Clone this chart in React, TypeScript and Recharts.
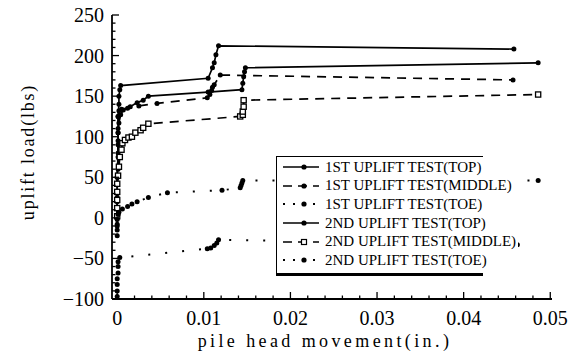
import { ComposedChart, Line, XAxis, YAxis, Legend } from "recharts";

type Pt = [number, number];

// pile head movement (in.), uplift load (lbs)
const TOP_1ST: Pt[] = [
  [0, -10], [0, 20], [0, 50], [0.0001, 80], [0.0001, 105], [0.0001, 125], [0.0002, 140],
  [0.0002, 150], [0.0003, 158], [0.0004, 163], [0.0105, 172], [0.011, 185], [0.0112, 191],
  [0.0114, 201], [0.0117, 212], [0.0458, 208],
];
const MIDDLE_1ST: Pt[] = [
  [0, 0], [0, 30], [0.0001, 60], [0.0001, 90], [0.0001, 110], [0.0001, 125], [0.0002, 132],
  [0.0005, 134], [0.0012, 135], [0.0025, 138], [0.0046, 141], [0.0104, 148], [0.0107, 152],
  [0.0109, 157], [0.011, 161], [0.0112, 164], [0.0119, 176], [0.0457, 170],
];
const TOE_1ST: Pt[] = [
  [0, -97], [0, -90], [0, -82], [0, -75], [0.0001, -68], [0.0001, -60], [0.0001, -54],
  [0.0003, -49], [0.0104, -38], [0.0108, -37], [0.0112, -34], [0.0115, -31], [0.0117, -27],
  [0.0462, -33],
];
const TOP_2ND: Pt[] = [
  [0, 0], [0, 25], [0, 50], [0.0001, 75], [0.0001, 95], [0.0001, 105], [0.0002, 117],
  [0.0004, 127], [0.0007, 133], [0.0015, 137], [0.0023, 142], [0.003, 145], [0.0036, 150],
  [0.0105, 155], [0.0144, 158], [0.0145, 166], [0.0146, 174], [0.0147, 180], [0.0148, 185],
  [0.0486, 191],
];
const MIDDLE_2ND: Pt[] = [
  [0, 2], [0, 12], [0, 22], [0, 32], [0, 42], [0.0001, 52], [0.0002, 63], [0.0003, 75],
  [0.0005, 84], [0.0006, 92], [0.0009, 96], [0.0013, 99], [0.0017, 100], [0.0021, 105],
  [0.0027, 108], [0.003, 111], [0.0036, 116], [0.0142, 125], [0.0145, 127], [0.0145, 131],
  [0.0146, 137], [0.0146, 145], [0.0486, 152],
];
const TOE_2ND: Pt[] = [
  [0, -22], [0, -15], [0, -8], [0, -2], [0.0001, 4], [0.0002, 7], [0.0006, 11], [0.0012, 14],
  [0.0017, 17], [0.0023, 20], [0.0036, 25], [0.0058, 31], [0.0121, 34], [0.0142, 37],
  [0.0143, 40], [0.0144, 43], [0.0145, 46], [0.0486, 46],
];

const X_LABELS = [0, 0.01, 0.02, 0.03, 0.04, 0.05];
const Y_LABELS = [-100, -50, 0, 50, 100, 150, 200, 250];

const FONT = '"Liberation Serif", "Times New Roman", serif';
const SOLID = undefined;
const DASHED = "9 7";
const DOTTED = "2 15";

const SERIES = [
  { name: "1ST UPLIFT TEST(TOP)", data: TOP_1ST, dash: SOLID, marker: "dot" },
  { name: "1ST UPLIFT TEST(MIDDLE)", data: MIDDLE_1ST, dash: DASHED, marker: "dot" },
  { name: "1ST UPLIFT TEST(TOE)", data: TOE_1ST, dash: DOTTED, marker: "dot" },
  { name: "2ND UPLIFT TEST(TOP)", data: TOP_2ND, dash: SOLID, marker: "dot" },
  { name: "2ND UPLIFT TEST(MIDDLE)", data: MIDDLE_2ND, dash: DASHED, marker: "square" },
  { name: "2ND UPLIFT TEST(TOE)", data: TOE_2ND, dash: DOTTED, marker: "dot" },
];

// minor ticks (every 0.002 in., every 10 lbs)
const X_TICKS = Array.from({ length: 26 }, (_, i) => +(i * 0.002).toFixed(3));
const Y_TICKS = Array.from({ length: 36 }, (_, i) => -100 + i * 10);

const isMajorX = (v: number) => X_LABELS.some((t) => Math.abs(t - v) < 1e-9);
const isMajorY = (v: number) => Y_LABELS.includes(v);
const fmtX = (v: number) => (v === 0 ? "0" : v.toFixed(2));
const fmtY = (v: number) => (v < 0 ? `\u2212${Math.abs(v)}` : `${v}`);

function XTick(props: any) {
  const { x, y, payload, side } = props;
  const major = isMajorX(payload.value);
  const len = major ? 7 : 3.5;
  const dir = side === "bottom" ? -1 : 1;
  return (
    <g>
      <line x1={x} y1={y} x2={x} y2={y + dir * len} stroke="#000" strokeWidth={1.3} />
      {side === "bottom" && major && (
        <text x={x} y={y + 26} textAnchor="middle" fontFamily={FONT} fontSize={20} fill="#000">
          {fmtX(payload.value)}
        </text>
      )}
    </g>
  );
}

function YTick(props: any) {
  const { x, y, payload, side } = props;
  const major = isMajorY(payload.value);
  const len = major ? 7 : 3.5;
  const dir = side === "left" ? 1 : -1;
  return (
    <g>
      <line x1={x} y1={y} x2={x + dir * len} y2={y} stroke="#000" strokeWidth={1.3} />
      {side === "left" && major && (
        <text x={x - 8} y={y + 7} textAnchor="end" fontFamily={FONT} fontSize={20} fill="#000">
          {fmtY(payload.value)}
        </text>
      )}
    </g>
  );
}

const renderDot = (marker: string) => (p: any) => {
  const { cx, cy, index } = p;
  if (marker === "square") {
    return (
      <rect key={index} x={cx - 2.6} y={cy - 2.6} width={5.2} height={5.2} fill="#fff" stroke="#000" strokeWidth={1.3} />
    );
  }
  return <circle key={index} cx={cx} cy={cy} r={2.5} fill="#000" />;
};

function LegendBox() {
  return (
    <div
      style={{
        position: "relative",
        background: "#fff",
        borderLeft: "1.5px solid #000",
        borderTop: "1.5px solid #000",
        borderBottom: "3px solid #000",
        padding: "1px 0 3px 0",
        width: 206,
        height: 112,
        fontFamily: FONT,
        fontSize: 15,
      }}
    >
      {SERIES.map((s) => (
        <div key={s.name} style={{ display: "flex", alignItems: "center", height: 18.6 }}>
          <svg width={48} height={12} style={{ flex: "none" }}>
            <line
              x1={6}
              y1={6}
              x2={42}
              y2={6}
              stroke="#000"
              strokeWidth={s.dash === DOTTED ? 2 : 1.6}
              strokeDasharray={s.dash === DASHED ? "9 6" : s.dash === DOTTED ? "2 8" : undefined}
            />
            {s.marker === "square" ? (
              <rect x={24.5} y={3.5} width={5} height={5} fill="#fff" stroke="#000" strokeWidth={1.2} />
            ) : (
              <circle cx={27} cy={6} r={2.6} fill="#000" />
            )}
          </svg>
          <span style={{ whiteSpace: "nowrap", background: "#fff", paddingRight: 2 }}>{s.name}</span>
        </div>
      ))}
    </div>
  );
}

export default function App() {
  return (
    <div style={{ position: "absolute", left: 0, top: 0, width: 575, height: 354, background: "#fff" }}>
      <ComposedChart width={575} height={354} margin={{ top: 15, right: 23, bottom: 0, left: 52 }}>
        <XAxis
          xAxisId="b"
          dataKey="x"
          type="number"
          domain={[-0.0006, 0.0502]}
          allowDataOverflow
          ticks={X_TICKS}
          interval={0}
          tickSize={0}
          tickMargin={0}
          tickLine={false}
          height={55}
          axisLine={{ stroke: "#000", strokeWidth: 1.8 }}
          tick={<XTick side="bottom" />}
          label={() => (
            <text x={325} y={347} textAnchor="middle" fontFamily={FONT} fontSize={18} letterSpacing={3.4} fill="#000">
              pile head movement(in.)
            </text>
          )}
        />
        <XAxis
          xAxisId="t"
          orientation="top"
          dataKey="x"
          type="number"
          domain={[-0.0006, 0.0502]}
          allowDataOverflow
          ticks={X_TICKS}
          interval={0}
          tickSize={0}
          tickMargin={0}
          tickLine={false}
          height={0}
          axisLine={{ stroke: "#000", strokeWidth: 1.8 }}
          tick={<XTick side="top" />}
        />
        <YAxis
          yAxisId="l"
          type="number"
          domain={[-100, 250]}
          allowDataOverflow
          ticks={Y_TICKS}
          interval={0}
          tickSize={0}
          tickMargin={0}
          tickLine={false}
          width={60}
          axisLine={{ stroke: "#000", strokeWidth: 1.8 }}
          tick={<YTick side="left" />}
          label={() => (
            <text
              x={28}
              y={152}
              transform="rotate(-90 28 152)"
              textAnchor="middle"
              dominantBaseline="central"
              fontFamily={FONT}
              fontSize={18}
              letterSpacing={1.8}
              fill="#000"
            >
              uplift load(lbs)
            </text>
          )}
        />
        <YAxis
          yAxisId="r"
          orientation="right"
          type="number"
          domain={[-100, 250]}
          allowDataOverflow
          ticks={Y_TICKS}
          interval={0}
          tickSize={0}
          tickMargin={0}
          tickLine={false}
          width={0}
          axisLine={{ stroke: "#000", strokeWidth: 1.8 }}
          tick={<YTick side="right" />}
        />
        {SERIES.map((s) => (
          <Line
            key={s.name}
            xAxisId="b"
            yAxisId="l"
            data={s.data.map(([x, y]) => ({ x, y }))}
            dataKey="y"
            name={s.name}
            type="linear"
            stroke="#000"
            strokeWidth={s.dash === DOTTED ? 2 : 1.7}
            strokeDasharray={s.dash}
            dot={renderDot(s.marker)}
            activeDot={false}
            isAnimationActive={false}
          />
        ))}
        <Legend
          layout="vertical"
          align="center"
          verticalAlign="middle"
          content={() => <LegendBox />}
          wrapperStyle={{ left: 276, top: 156, width: 206 }}
        />
      </ComposedChart>
    </div>
  );
}
